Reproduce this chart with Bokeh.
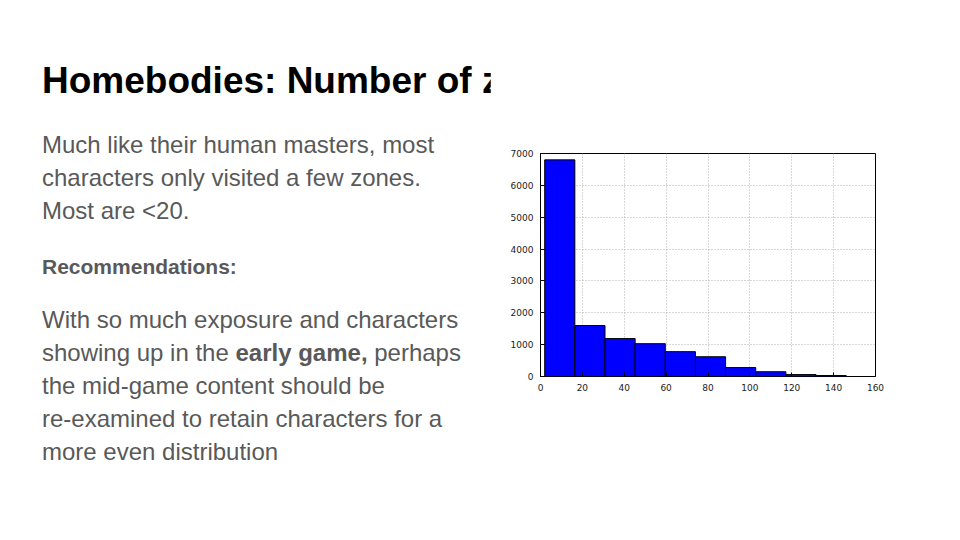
from bokeh.plotting import figure
from bokeh.models import Div, SingleIntervalTicker
from bokeh.layouts import row
from bokeh.embed import file_html
from bokeh.resources import INLINE

bin_left = [2, 16.4, 30.8, 45.2, 59.6, 74.0, 88.4, 102.8, 117.2, 131.6]
bin_right = [16.4, 30.8, 45.2, 59.6, 74.0, 88.4, 102.8, 117.2, 131.6, 146.0]
counts = [6800, 1600, 1190, 1030, 780, 620, 280, 150, 60, 30]

p = figure(width=454, height=524, x_range=(0, 160), y_range=(0, 7000),
           output_backend="svg", toolbar_location=None,
           min_border_left=50, min_border_right=69, min_border_top=153, min_border_bottom=148,
           frame_width=335, frame_height=223)
p.quad(left=bin_left, right=bin_right, bottom=0, top=counts,
       fill_color="#0000ff", line_color="black", line_width=1)
p.outline_line_color = "black"
p.outline_line_width = 1
for ax in (p.xaxis, p.yaxis):
    ax.major_label_text_font_size = "9px"
    ax.major_label_text_font = "DejaVu Sans"
    ax.major_label_text_color = "#222222"
    ax.axis_line_color = None
    ax.major_tick_in = 4
    ax.major_tick_out = 0
    ax.minor_tick_line_color = None
    ax.major_label_standoff = 3
p.xaxis.ticker = SingleIntervalTicker(interval=20)
p.yaxis.ticker = SingleIntervalTicker(interval=1000)
p.grid.grid_line_color = "#b0b0b0"
p.grid.grid_line_dash = "1 2"

html = """
<div style="position:relative;width:490px;height:524px;overflow:visible;font-family:'Liberation Sans',Arial,sans-serif;">
<div style="position:absolute;left:42px;top:55px;font-size:37px;font-weight:bold;color:#000;white-space:nowrap;">Homebodies: Number of zones visited</div>
<div style="position:absolute;left:42px;top:128px;font-size:24px;line-height:33px;color:#595959;white-space:nowrap;">
Much like their human masters, most<br>characters only visited a few zones.<br>Most are &lt;20.</div>
<div style="position:absolute;left:42px;top:250px;font-size:21px;line-height:33px;color:#595959;font-weight:bold;white-space:nowrap;">Recommendations:</div>
<div style="position:absolute;left:42px;top:303px;font-size:24px;line-height:33px;color:#595959;white-space:nowrap;">
With so much exposure and characters<br>showing up in the <b>early game,</b> perhaps<br>the mid-game content should be<br>re-examined to retain characters for a<br>more even distribution</div>
</div>
"""
d = Div(text=html, width=490, height=524, margin=(0, 0, 0, 0), styles={"overflow": "visible"})
layout = row(d, p)
open("out.html", "w").write(file_html(layout, INLINE))
